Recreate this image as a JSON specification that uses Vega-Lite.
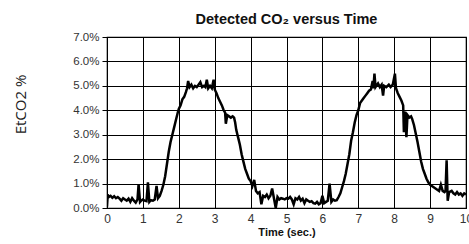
{
  "$schema": "https://vega.github.io/schema/vega-lite/v6.json",
  "autosize": "none",
  "width": 359,
  "height": 171,
  "padding": {"left": 107, "top": 37, "right": 3, "bottom": 36},
  "background": "white",
  "title": {"text": "Detected CO₂ versus Time", "font": "Liberation Sans", "fontSize": 14.5, "fontWeight": "bold", "color": "#111", "offset": 4, "anchor": "middle"},
  "config": {
    "view": {"stroke": "#000", "strokeWidth": 1.2},
    "axis": {"labelFont": "Liberation Sans", "titleFont": "Liberation Sans", "labelColor": "#333", "domain": false, "gridColor": "#000", "gridOpacity": 1, "gridWidth": 1}
  },
  "data": {"values": [
    {"t":0.00,"v":0.05},{"t":0.02,"v":0.55},{"t":0.05,"v":0.45},{"t":0.10,"v":0.5},{"t":0.15,"v":0.42},{"t":0.20,"v":0.48},{"t":0.25,"v":0.4},{"t":0.30,"v":0.45},{"t":0.35,"v":0.38},{"t":0.40,"v":0.3},{"t":0.45,"v":0.4},{"t":0.50,"v":0.35},{"t":0.55,"v":0.3},{"t":0.60,"v":0.38},{"t":0.65,"v":0.25},{"t":0.70,"v":0.4},{"t":0.75,"v":0.3},{"t":0.80,"v":0.22},{"t":0.85,"v":0.35},{"t":0.88,"v":0.98},{"t":0.92,"v":0.25},{"t":0.95,"v":0.3},{"t":1.00,"v":0.35},{"t":1.05,"v":0.3},{"t":1.10,"v":0.28},{"t":1.14,"v":1.05},{"t":1.18,"v":0.25},{"t":1.22,"v":0.32},{"t":1.28,"v":0.3},{"t":1.33,"v":0.35},{"t":1.38,"v":0.9},{"t":1.42,"v":0.4},{"t":1.47,"v":0.5},{"t":1.52,"v":0.7},{"t":1.57,"v":0.95},{"t":1.62,"v":1.3},{"t":1.67,"v":1.8},{"t":1.72,"v":2.3},{"t":1.77,"v":2.7},{"t":1.82,"v":3.0},{"t":1.87,"v":3.3},{"t":1.92,"v":3.6},{"t":1.97,"v":3.9},{"t":2.00,"v":4.05},{"t":2.05,"v":4.2},{"t":2.10,"v":4.45},{"t":2.15,"v":4.55},{"t":2.20,"v":4.75},{"t":2.23,"v":4.9},{"t":2.26,"v":5.2},{"t":2.30,"v":4.95},{"t":2.35,"v":5.05},{"t":2.40,"v":4.9},{"t":2.45,"v":5.0},{"t":2.50,"v":4.95},{"t":2.55,"v":5.05},{"t":2.60,"v":5.15},{"t":2.65,"v":4.95},{"t":2.70,"v":5.0},{"t":2.74,"v":4.95},{"t":2.78,"v":5.25},{"t":2.82,"v":4.9},{"t":2.87,"v":5.0},{"t":2.92,"v":4.9},{"t":2.97,"v":5.25},{"t":3.00,"v":4.85},{"t":3.05,"v":4.7},{"t":3.10,"v":4.5},{"t":3.15,"v":4.35},{"t":3.20,"v":4.2},{"t":3.25,"v":4.0},{"t":3.29,"v":3.9},{"t":3.31,"v":3.45},{"t":3.35,"v":3.8},{"t":3.40,"v":3.75},{"t":3.45,"v":3.7},{"t":3.50,"v":3.75},{"t":3.54,"v":3.7},{"t":3.57,"v":3.5},{"t":3.60,"v":3.2},{"t":3.65,"v":2.9},{"t":3.70,"v":2.6},{"t":3.75,"v":2.2},{"t":3.80,"v":1.9},{"t":3.85,"v":1.6},{"t":3.90,"v":1.4},{"t":3.95,"v":1.2},{"t":4.00,"v":1.1},{"t":4.05,"v":0.9},{"t":4.10,"v":1.15},{"t":4.15,"v":0.7},{"t":4.20,"v":0.6},{"t":4.25,"v":0.65},{"t":4.30,"v":0.15},{"t":4.35,"v":0.5},{"t":4.40,"v":0.45},{"t":4.45,"v":0.55},{"t":4.50,"v":0.4},{"t":4.55,"v":0.5},{"t":4.60,"v":0.8},{"t":4.65,"v":0.4},{"t":4.70,"v":0.0},{"t":4.75,"v":0.45},{"t":4.80,"v":0.35},{"t":4.85,"v":0.4},{"t":4.90,"v":0.38},{"t":4.95,"v":0.35},{"t":5.00,"v":0.4},{"t":5.05,"v":0.38},{"t":5.10,"v":0.45},{"t":5.15,"v":0.35},{"t":5.20,"v":0.15},{"t":5.25,"v":0.4},{"t":5.30,"v":0.35},{"t":5.35,"v":0.45},{"t":5.40,"v":0.3},{"t":5.45,"v":0.38},{"t":5.50,"v":0.2},{"t":5.55,"v":0.35},{"t":5.60,"v":0.3},{"t":5.65,"v":0.25},{"t":5.70,"v":0.28},{"t":5.75,"v":0.2},{"t":5.80,"v":0.18},{"t":5.85,"v":0.25},{"t":5.90,"v":0.15},{"t":5.95,"v":0.2},{"t":6.00,"v":0.5},{"t":6.05,"v":0.2},{"t":6.10,"v":0.25},{"t":6.15,"v":0.3},{"t":6.20,"v":1.0},{"t":6.25,"v":0.25},{"t":6.30,"v":0.35},{"t":6.35,"v":0.3},{"t":6.40,"v":0.32},{"t":6.45,"v":0.45},{"t":6.50,"v":0.6},{"t":6.55,"v":0.85},{"t":6.60,"v":1.1},{"t":6.65,"v":1.4},{"t":6.70,"v":1.8},{"t":6.75,"v":2.2},{"t":6.80,"v":2.75},{"t":6.85,"v":3.1},{"t":6.90,"v":3.5},{"t":6.95,"v":3.8},{"t":7.00,"v":4.0},{"t":7.05,"v":4.3},{"t":7.10,"v":4.4},{"t":7.15,"v":4.5},{"t":7.20,"v":4.6},{"t":7.25,"v":4.7},{"t":7.30,"v":4.8},{"t":7.35,"v":4.85},{"t":7.40,"v":5.2},{"t":7.42,"v":4.9},{"t":7.45,"v":5.5},{"t":7.48,"v":4.95},{"t":7.55,"v":5.1},{"t":7.60,"v":4.95},{"t":7.65,"v":5.05},{"t":7.69,"v":4.6},{"t":7.72,"v":5.0},{"t":7.78,"v":4.95},{"t":7.85,"v":5.05},{"t":7.90,"v":4.95},{"t":7.96,"v":5.05},{"t":8.02,"v":5.5},{"t":8.05,"v":4.9},{"t":8.10,"v":4.7},{"t":8.15,"v":4.55},{"t":8.20,"v":4.4},{"t":8.25,"v":4.2},{"t":8.27,"v":3.1},{"t":8.30,"v":3.95},{"t":8.34,"v":2.9},{"t":8.37,"v":3.8},{"t":8.42,"v":3.7},{"t":8.47,"v":3.75},{"t":8.50,"v":3.65},{"t":8.55,"v":3.4},{"t":8.60,"v":3.05},{"t":8.65,"v":2.7},{"t":8.70,"v":2.3},{"t":8.75,"v":1.9},{"t":8.80,"v":1.6},{"t":8.85,"v":1.4},{"t":8.90,"v":1.2},{"t":8.95,"v":1.05},{"t":9.00,"v":0.95},{"t":9.05,"v":0.9},{"t":9.10,"v":0.85},{"t":9.15,"v":0.8},{"t":9.20,"v":0.75},{"t":9.25,"v":0.7},{"t":9.30,"v":0.95},{"t":9.35,"v":0.7},{"t":9.40,"v":0.65},{"t":9.43,"v":0.7},{"t":9.46,"v":1.95},{"t":9.49,"v":0.3},{"t":9.53,"v":0.65},{"t":9.60,"v":0.7},{"t":9.65,"v":0.6},{"t":9.70,"v":0.55},{"t":9.75,"v":0.65},{"t":9.80,"v":0.55},{"t":9.85,"v":0.6},{"t":9.90,"v":0.5},{"t":9.95,"v":0.6},{"t":10.00,"v":0.55}
  ]},
  "mark": {"type": "line", "color": "#000", "strokeWidth": 2.5, "strokeJoin": "miter", "clip": true},
  "encoding": {
    "x": {"field": "t", "type": "quantitative", "scale": {"domain": [0, 10], "nice": false},
      "axis": {"values": [0,1,2,3,4,5,6,7,8,9,10], "title": "Time  (sec.)", "titleFontSize": 11, "titleFontWeight": "bold", "titleColor": "#111", "titlePadding": 2, "labelFontSize": 12, "labelPadding": 5, "ticks": false, "labelFlush": false}},
    "y": {"field": "v", "type": "quantitative", "scale": {"domain": [0, 7], "nice": false},
      "axis": {"values": [0,1,2,3,4,5,6,7], "labelExpr": "format(datum.value, '.1f') + '%'", "labelFontSize": 11.5, "labelPadding": 3, "ticks": true, "tickSize": 5, "tickColor": "#000", "title": "EtCO2  %", "titleFont": "Open Sans", "titleFontSize": 15, "titleFontWeight": "normal", "titleColor": "#222", "titleX": -87, "titleY": 67, "titleBaseline": "middle"}}
  }
}
